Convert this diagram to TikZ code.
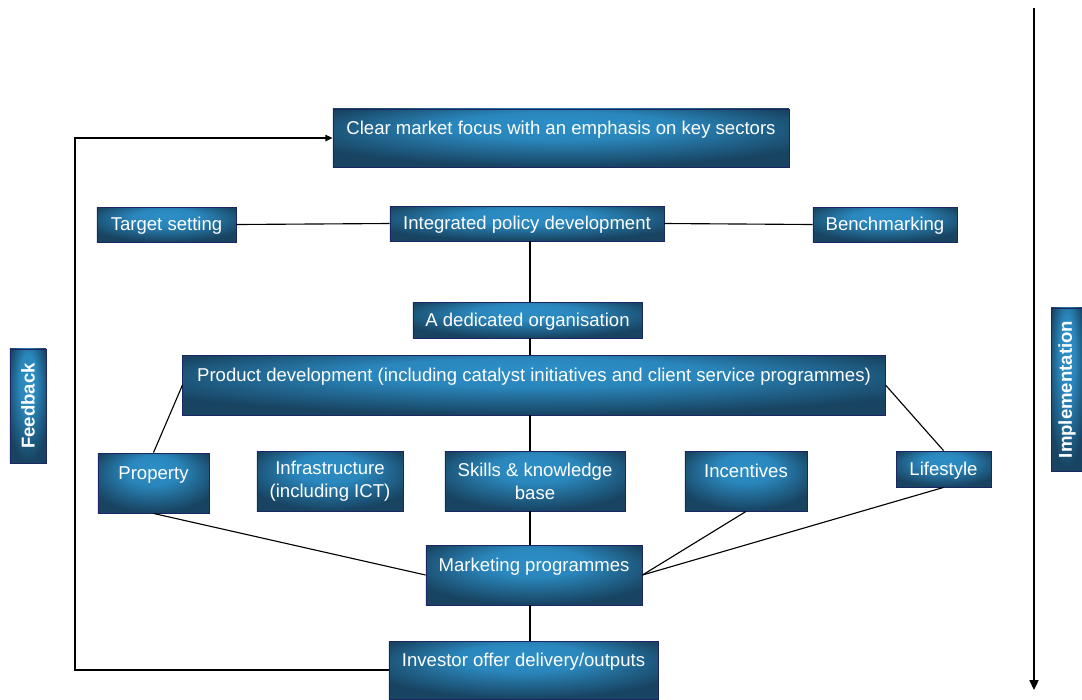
\documentclass[tikz,border=0pt]{standalone}
\usepackage{fontspec}
\setmainfont{Liberation Sans}
\usepackage{tikz}
\usetikzlibrary{arrows.meta, calc}
\usepackage{xcolor}
\definecolor{boxdark}{RGB}{24,68,98}
\definecolor{boxlight}{RGB}{44,142,198}
\definecolor{boxline}{RGB}{28,38,100}
\pgfdeclareradialshading{boxglow}{\pgfpoint{0bp}{14bp}}{%
    color(0bp)=(boxlight); color(12bp)=(boxlight!90!boxdark);
    color(30bp)=(boxdark); color(50bp)=(boxdark)}

\begin{document}
\begin{tikzpicture}[
        x=0.025cm, y=-0.025cm,
        box/.style={draw=boxline, line width=0.6pt, shading=boxglow,
                    text=white, align=center, inner sep=0pt,
                    text height=0.36cm, text depth=0.04cm,
                    font=\fontsize{13.2}{16.4}\selectfont},
        twobox/.style={box, text height=, text depth=},
        tallbox/.style={box, text height=0.3cm, text depth=0.5cm},
        sidebox/.style={twobox, font=\bfseries\fontsize{13.2}{16.4}\selectfont},
        link/.style={line width=0.8pt, black},
        arrow/.style={link, -{Triangle[length=5pt,width=4.5pt]}},
        bigarrow/.style={link, -{Triangle[length=7pt,width=6.5pt]}},
    ]

    \useasboundingbox (0,0) rectangle (1082,699);

    % ---------- top of the chain -----------------------------------------
    \node[tallbox, minimum width=11.4cm, minimum height=1.45cm] (market) at (561,138)
        {Clear market focus with an emphasis on key sectors};

    \node[box, minimum width=3.475cm, minimum height=0.875cm] (target) at (166.5,224.5) {Target setting};
    \node[box, minimum width=6.85cm,  minimum height=0.875cm] (policy) at (527,223.5)   {Integrated policy development};
    \node[box, minimum width=3.6cm,   minimum height=0.875cm] (bench)  at (885,224.5)   {Benchmarking};

    \node[box, minimum width=5.725cm, minimum height=0.9cm] (dedicated) at (527.5,320) {A dedicated organisation};

    \node[tallbox, minimum width=17.55cm, minimum height=1.5cm] (product) at (534,385)
        {Product development (including catalyst initiatives and client service programmes)};

    % ---------- product strands ------------------------------------------
    \node[tallbox, minimum width=2.775cm, minimum height=1.5cm] (property)  at (153.5,483) {Property};
    \node[twobox,  minimum width=3.65cm,  minimum height=1.5cm] (infra)     at (330,481)   {Infrastructure\\(including ICT)};
    \node[twobox,  minimum width=4.5cm,   minimum height=1.5cm] (skills)    at (535,481)   {Skills \& knowledge\\base};
    \node[tallbox, minimum width=3.05cm,  minimum height=1.5cm] (incent)    at (746,481)   {Incentives};
    \node[box,     minimum width=2.375cm, minimum height=0.9cm] (lifestyle) at (943.5,469) {Lifestyle};

    % ---------- delivery -------------------------------------------------
    \node[tallbox, minimum width=5.4cm,   minimum height=1.5cm]  (marketing) at (534,575)   {Marketing programmes};
    \node[tallbox, minimum width=6.725cm, minimum height=1.45cm] (investor)  at (523.5,670) {Investor offer delivery/outputs};

    % ---------- side labels ----------------------------------------------
    \node[sidebox, minimum width=0.9cm, minimum height=2.85cm] (feedback) at (28,406)
        {\rotatebox{90}{Feedback}};
    \node[sidebox, minimum width=0.8cm, minimum height=4.075cm] (implementation) at (1067,389.5)
        {\rotatebox{90}{Implementation}};

    % ---------- connectors -----------------------------------------------
    \coordinate (spine) at (530,0);
    \coordinate (fbx)   at (75,0);
    \coordinate (imptop) at (1034,8);
    \coordinate (impbot) at (1034,690);

    \draw[link] (target.east) -- (policy.west);
    \draw[link] (policy.east) -- (bench.west);

    \draw[link] (policy.south -| spine)    -- (dedicated.north -| spine);
    \draw[link] (dedicated.south -| spine) -- (product.north -| spine);
    \draw[link] (product.south -| spine)   -- (skills.north -| spine);
    \draw[link] (skills.south -| spine)    -- (marketing.north -| spine);
    \draw[link] (marketing.south -| spine) -- (investor.north -| spine);

    \draw[link] (product.west) -- (property.north);
    \draw[link] (product.east) -- (lifestyle.north);

    \draw[link] (property.south)  -- (marketing.west);
    \draw[link] (incent.south)    -- (marketing.east);
    \draw[link] (lifestyle.south) -- (marketing.east);

    % feedback loop back to the top
    \draw[arrow] (investor.west) -- (investor.west -| fbx) -- (market.west -| fbx) -- (market.west);

    % implementation direction
    \draw[bigarrow] (imptop) -- (impbot);

\end{tikzpicture}
\end{document}
